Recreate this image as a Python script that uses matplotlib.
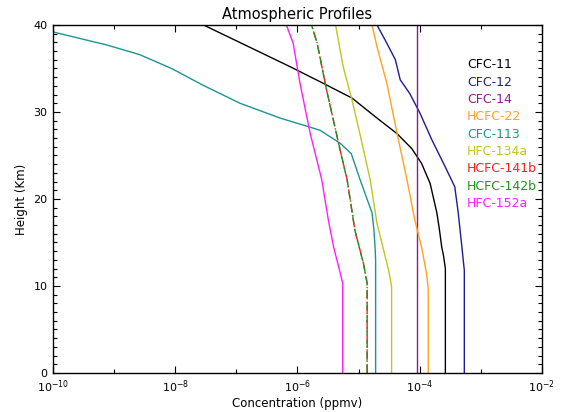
import matplotlib
matplotlib.use("Agg")
import matplotlib.pyplot as plt
from matplotlib.ticker import FixedLocator, LogFormatterMathtext, MultipleLocator

# profiles: height (km) and concentration (ppmv)
h_cfc11 = [0, 12, 13.5, 14.5, 16.5, 18.4, 21.8, 24.1, 25.8, 27.5, 29.3, 31.6,
           33.3, 35.2, 40]
c_cfc11 = [2.63e-4, 2.63e-4, 2.45e-4, 2.29e-4, 2.1e-4, 1.91e-4, 1.48e-4, 1.07e-4,
           7.4e-5, 4.27e-5, 2.0e-5, 7.8e-6, 2.63e-6, 7.6e-7, 2.9e-8]

h_cfc12 = [0, 11.8, 13, 14.5, 18.4, 21.4, 24.1, 26.8, 29.8, 32.1, 33.7, 36.0,
           37.9, 40]
c_cfc12 = [5.37e-4, 5.37e-4, 5.15e-4, 4.9e-4, 4.27e-4, 3.75e-4, 2.45e-4, 1.58e-4,
           1.02e-4, 6.9e-5, 4.8e-5, 4.0e-5, 2.9e-5, 2.0e-5]

h_cfc14 = [0, 40]
c_cfc14 = [9.0e-5, 9.0e-5]

h_hcfc22 = [0, 9.5, 10.5, 11.5, 14.5, 17.6, 22.2, 27.5, 33.3, 37.5, 40]
c_hcfc22 = [1.38e-4, 1.38e-4, 1.34e-4, 1.29e-4, 1.07e-4, 8.3e-5, 6.2e-5, 4.27e-5,
            2.9e-5, 2.0e-5, 1.66e-5]

h_cfc113 = [0, 13, 14.5, 16.5, 18.4, 22.2, 25.2, 26.4, 27.9, 29.3, 31.0, 33.1,
            35.0, 36.6, 37.7, 39.2, 40]
c_cfc113 = [1.9e-5, 1.9e-5, 1.86e-5, 1.78e-5, 1.66e-5, 1.06e-5, 7.6e-6, 5.0e-6,
            2.34e-6, 5.2e-7, 1.15e-7, 2.8e-8, 8.7e-9, 2.6e-9, 7.6e-10, 1.0e-10,
            3.5e-11]

h_hfc134a = [0, 9.9, 10.8, 11.8, 14.1, 17.2, 22.2, 27.5, 31.4, 35.2, 40]
c_hfc134a = [3.47e-5, 3.47e-5, 3.3e-5, 3.1e-5, 2.57e-5, 2.0e-5, 1.55e-5, 1.05e-5,
             7.8e-6, 5.6e-6, 4.2e-6]

h_hcfc141b = [0, 10.3, 11.3, 12.6, 16.4, 22.2, 25.6, 32.5, 37.9, 40]
c_hcfc141b = [1.38e-5, 1.38e-5, 1.3e-5, 1.2e-5, 8.7e-6, 6.5e-6, 5.0e-6, 3.0e-6,
              2.1e-6, 1.7e-6]

h_hcfc142b = [0, 10.3, 11.3, 12.6, 16.4, 22.2, 25.6, 32.5, 37.9, 40]
c_hcfc142b = [1.38e-5, 1.38e-5, 1.3e-5, 1.2e-5, 8.7e-6, 6.5e-6, 5.0e-6, 3.0e-6,
              2.1e-6, 1.7e-6]

h_hfc152a = [0, 10.3, 11.5, 14.5, 17.6, 22.2, 27.5, 33.3, 37.9, 40]
c_hfc152a = [5.5e-6, 5.5e-6, 5.0e-6, 3.9e-6, 3.2e-6, 2.5e-6, 1.62e-6, 1.1e-6,
             8.5e-7, 6.6e-7]

names = ['CFC-11', 'CFC-12', 'CFC-14', 'HCFC-22', 'CFC-113',
         'HFC-134a', 'HCFC-141b', 'HCFC-142b', 'HFC-152a']
colors = ['black', '#1c1c94', '#8c1c8c', '#ffa21c', '#1c9494',
          '#c4c41c', '#ff1c1c', '#1c941c', '#ff1cff']

fig = plt.figure(figsize=(5.79, 4.12), dpi=100)
ax = fig.add_axes([0.0915, 0.0947, 0.8445, 0.8447])

profiles = [(c_cfc11, h_cfc11), (c_cfc12, h_cfc12), (c_cfc14, h_cfc14),
            (c_hcfc22, h_hcfc22), (c_cfc113, h_cfc113), (c_hfc134a, h_hfc134a),
            (c_hcfc141b, h_hcfc141b), (c_hcfc142b, h_hcfc142b), (c_hfc152a, h_hfc152a)]
styles = ['-', '-', '-', '-', '-', '-', '-.', (0, (6, 3)), '-']

for (c, h), col, ls in zip(profiles, colors, styles):
    ax.plot(c, h, color=col, lw=1.0, ls=ls)

ax.set_xscale('log')
ax.set_xlim(1e-10, 1e-2)
ax.set_ylim(0, 40)

ax.xaxis.set_major_locator(FixedLocator([1e-10, 1e-8, 1e-6, 1e-4, 1e-2]))
ax.xaxis.set_minor_locator(FixedLocator([1e-9, 1e-7, 1e-5, 1e-3]))
ax.xaxis.set_major_formatter(LogFormatterMathtext())
ax.xaxis.set_minor_formatter(plt.NullFormatter())
ax.yaxis.set_major_locator(MultipleLocator(10))
ax.yaxis.set_minor_locator(MultipleLocator(1))

ax.tick_params(which='both', direction='in', top=True, right=True,
               labelsize=8, colors='black', width=0.8)
ax.tick_params(which='major', length=5, pad=4)
ax.tick_params(which='minor', length=2.8)
for s in ax.spines.values():
    s.set_linewidth(1.0)

ax.set_title('Atmospheric Profiles', fontsize=10.5, pad=4)
ax.set_xlabel('Concentration (ppmv)', fontsize=8.5, labelpad=1)
ax.set_ylabel('Height (Km)', fontsize=8.5, labelpad=4)

# legend as coloured text
for i, (n, col) in enumerate(zip(names, colors)):
    ax.text(0.847, 0.885 - i * 0.0497, n, color=col, fontsize=9,
            transform=ax.transAxes, va='center', ha='left')

fig.savefig('out.png', dpi=100)
